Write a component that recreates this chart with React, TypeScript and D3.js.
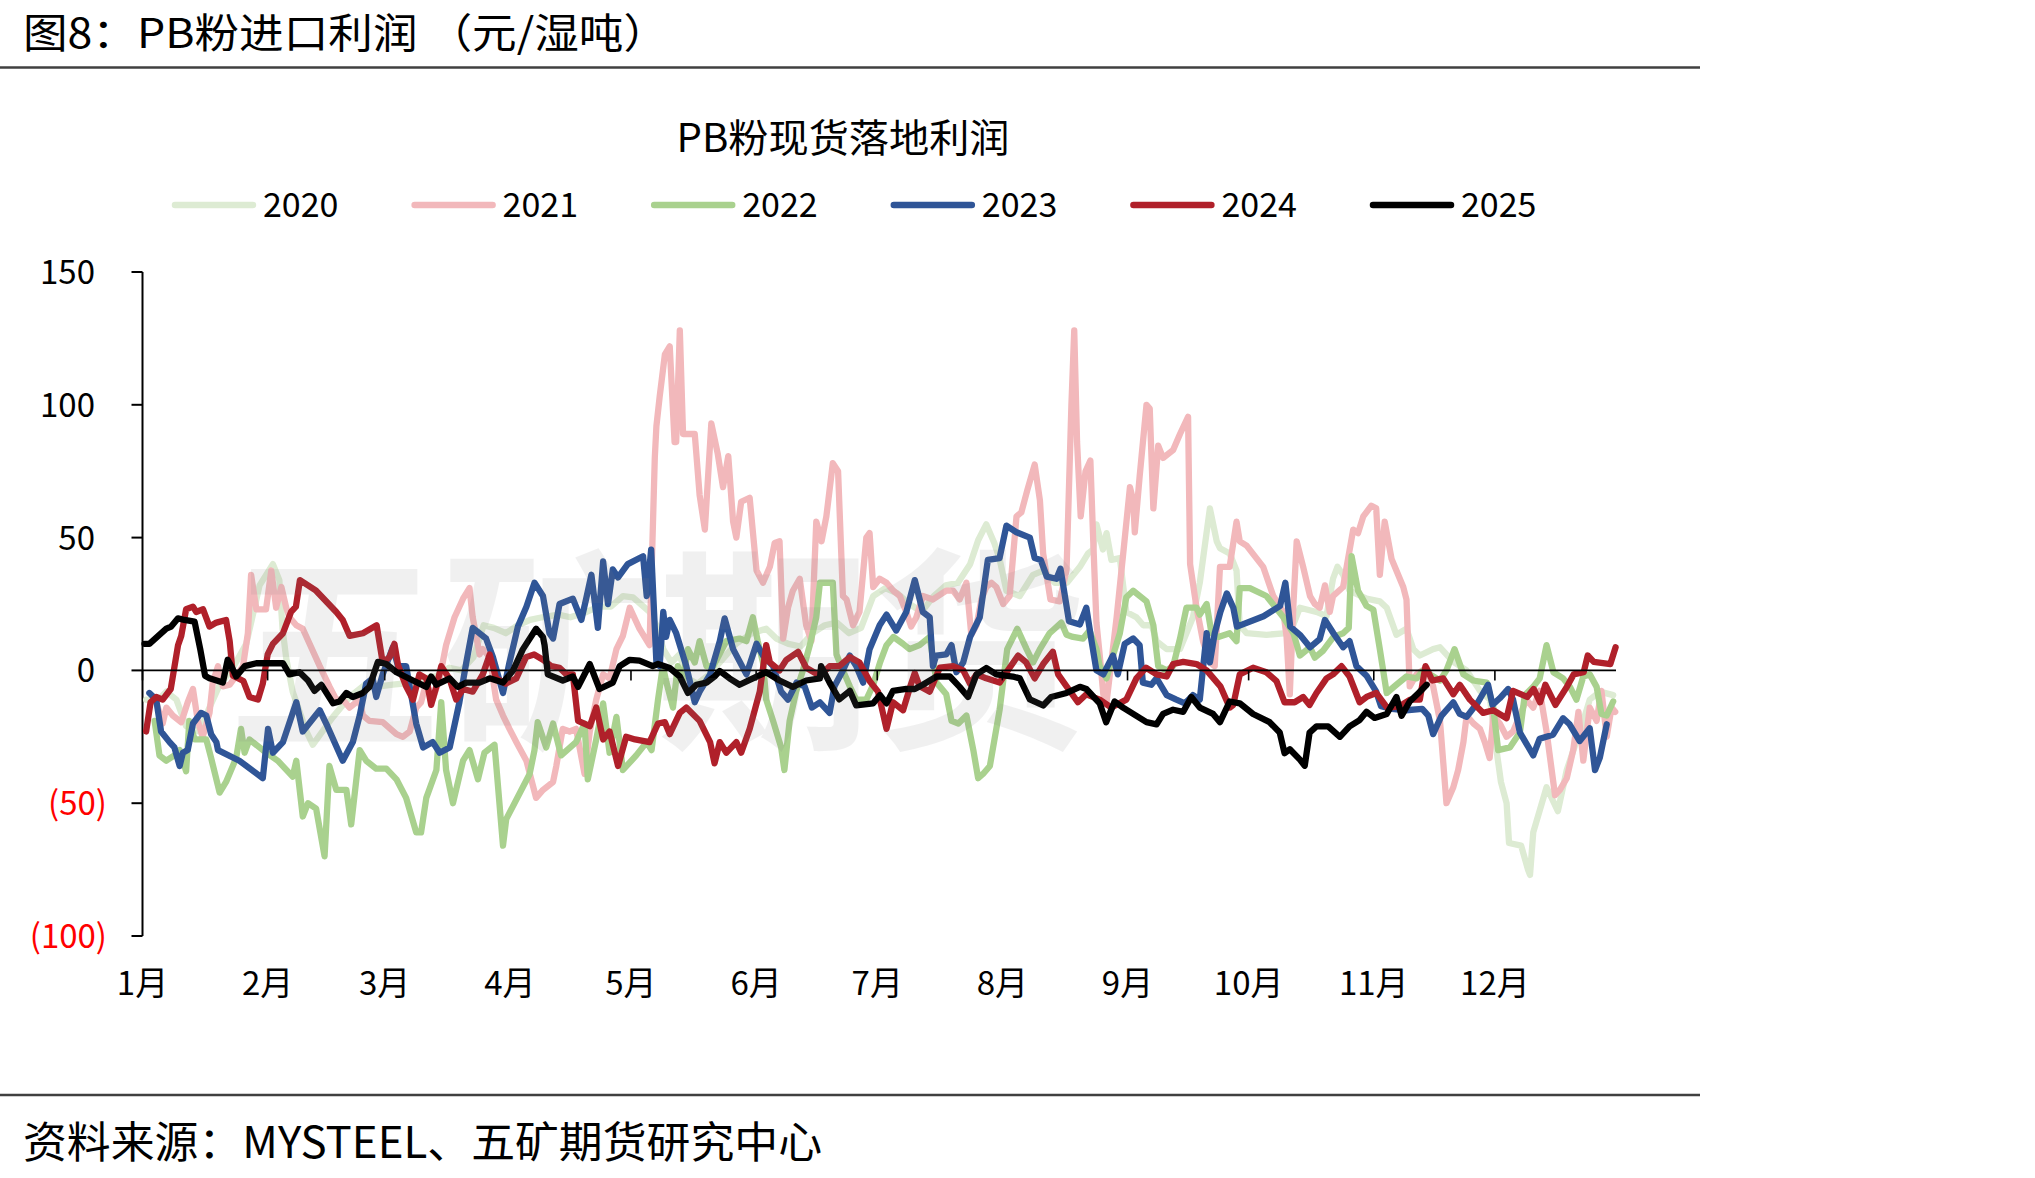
import * as d3 from 'd3';

const WIDTH = 2035;
const HEIGHT = 1178;
const FONT = '"Noto Sans CJK SC", "Noto Sans", sans-serif';

const years = ['2020', '2021', '2022', '2023', '2024', '2025'];
const colors = ['#DDEBD3', '#F2B8BB', '#A9D18E', '#2F5597', '#B0202A', '#000000'];
const monthLabels = ['1月', '2月', '3月', '4月', '5月', '6月', '7月', '8月', '9月', '10月', '11月', '12月'];
const yTicks = [-100, -50, 0, 50, 100, 150];

// [day of year, profit in yuan / wet ton]
const s2020: [number, number][] = [
  [0.9, -11], [3.4, -12], [5.9, -8], [8.4, -11], [10.8, -21], [14.1, -23], [16.6, -14], [19.1, -5.5], [22.4, 1],
  [25.7, 10], [29, 32], [32.3, 40], [33.9, 34], [34.7, 15.5], [35.6, 4.5], [37.2, -8], [40.6, -23], [42.2, -28],
  [45.5, -21], [47.2, -17.5], [51.3, -10], [55.4, -5], [58.7, -6], [62, -5.4], [67, -4.6], [70, -3], [73, -2],
  [76, 1], [79, 0], [82, 5], [84.5, 17], [87, 16], [90, 14], [93, 17], [96, 19], [99, 20], [103, 21], [106, 20],
  [110, 22], [113, 24], [116, 24], [119, 28], [121.5, 27.5], [125.6, 22], [127.3, 17], [129, 8], [131, 3], [133, 6],
  [135, -3], [137.5, -5], [140, -2], [143, 3], [147, 10], [151, 14], [154.5, 15.7], [157, 12], [160, 10], [163, 9],
  [166, 14], [169, 17], [172, 18], [175, 14], [178, 16], [181, 28], [184, 31], [187, 29], [190, 25], [193, 22],
  [196, 28], [199, 32], [202, 33], [205, 40], [207, 49], [209, 55], [211, 48], [212.3, 42], [214, 30], [217.3, 28],
  [220.6, 36], [223.1, 37.6], [226, 33], [229, 33], [232.2, 39], [234.2, 44], [235.5, 45.5], [236.3, 55], [237.9, 45.5],
  [238.8, 51.7], [240, 41.6], [242.1, 42.3], [243.7, 22], [246.2, 20], [247.9, 17], [250, 17], [251.2, 11], [253.7, 8],
  [257, 8], [260.2, 20], [261.9, 33], [264.4, 61], [266.1, 48.6], [266.9, 46], [269.3, 44], [271, 37.6], [271.8, 17],
  [273.5, 14], [278.4, 13.4], [283.4, 14], [285, 17], [286.7, 23.6], [290.8, 22], [293.3, 20.4], [294.9, 34.5], [296, 39],
  [297.4, 36], [299, 30], [303.2, 27], [306.5, 26], [308.2, 23.6], [310.6, 13.4], [313.1, 15.7], [314.8, 8], [316.4, 5.6],
  [319.7, 8], [321.4, 8.7], [324.7, 3.2], [328, 0], [331.3, -7.7], [333.8, -11], [335.4, -30], [336.5, -42], [337.9, -50],
  [338.5, -65], [341.5, -66], [343.2, -75], [343.7, -77], [344.5, -61], [347.8, -44], [350.6, -53], [352.8, -37.5],
  [356.9, -19], [358.5, -11], [361, -8], [364.3, -9.3],
];

const s2021: [number, number][] = [
  [3.4, -12], [5, -20], [5.9, -14], [7.5, -17], [9.6, -19.5], [11.2, -12], [12.5, -7], [13.7, -19], [14.9, -25],
  [16.6, -16], [17.4, -4.6], [18.7, 1.6], [19.9, -6], [21.6, -5.4], [24.9, 1.6], [26.1, 14], [26.9, 36], [28.2, 23],
  [30.6, 23], [31.9, 37.6], [33.1, 23.6], [34.4, 31.4], [35.6, 23.6], [36.4, 20], [38.1, 17], [39.7, 15.7], [43.9, 1.6],
  [46.3, -6], [48, -11], [49.6, -11], [51.3, -14], [53.8, -11], [54.6, -17], [56.2, -19], [59.5, -19.5], [62.9, -24],
  [64.5, -25], [66.2, -23], [67.8, -14], [69, -12], [70.3, -4.6], [71.9, -11], [73.6, -3], [75.2, 9.5], [77.3, 20],
  [79.4, 27], [81, 31], [81.8, 20], [83.5, 6], [84.3, 8], [86, 5], [87.6, -11], [89.3, -17], [90.9, -22], [92.6, -27],
  [95.1, -34], [97.5, -48], [99.2, -45], [101.7, -42], [102.5, -36], [104.1, -22], [105.8, -23], [107.4, -22],
  [109.5, -39], [110.8, -23], [112.4, -11], [114.1, -1.5], [115.7, -3], [117.4, 8], [119, 13], [120.7, 23.6],
  [123.1, 15.7], [125.6, 9.5], [126.9, 80], [127.3, 92], [128.1, 103], [129.4, 119], [130.6, 122], [131.8, 86],
  [132.2, 86], [133.1, 128], [133.9, 89], [136.8, 89], [138, 66], [139.3, 53], [140.9, 93], [142.5, 81.5], [143.8, 69],
  [145.1, 80.7], [146.3, 56], [147.1, 50], [148.3, 63.5], [150.4, 65], [152.1, 37.6], [153.7, 33], [155.4, 39],
  [156.6, 48], [157.8, 48.6], [158.7, 12], [159.9, 23.6], [161.1, 30], [162.8, 34.5], [164.4, 17], [165.7, 11],
  [166.9, 56], [168.2, 48.6], [169.4, 58], [171, 78], [172.3, 75], [173.5, 28], [174.4, 26.7], [176, 17], [177.6, 22],
  [179.3, 50], [180.1, 51.7], [181, 31.4], [182.6, 34.5], [184.3, 33], [186, 30], [187.6, 28], [189.2, 22],
  [190.4, 16.5], [191.7, 20], [193.3, 28], [195.8, 26.7], [199.1, 30], [200.8, 30], [202.4, 26.7], [204.1, 33],
  [205.3, 13.4], [206.6, 17], [207.8, 26.7], [209, 31.4], [210.3, 33], [211.5, 31.4], [213.2, 25], [214.8, 28],
  [216.5, 58], [217.7, 59.5], [219.2, 68], [221, 77.5], [222.3, 64], [223.1, 44], [224.9, 26.7], [227.2, 26],
  [228.9, 38], [230.1, 100], [230.8, 128], [231.5, 86], [232.4, 58], [233.6, 75], [234.8, 79], [235.5, 49],
  [236.3, 18], [237.1, 6], [238, -9], [238.8, -12], [241.3, 20], [243, 45], [244.6, 69], [245.4, 64], [245.8, 52],
  [247, 73], [248.7, 100], [249.5, 98.6], [250.4, 61], [251.6, 84.6], [252.8, 80], [255.3, 83], [257, 89], [259, 95.5],
  [259.5, 40], [261.1, 23.6], [262.7, 11], [264.4, 3], [265.6, 1.6], [266.9, 39], [269.3, 39], [271, 56], [271.8, 48.6],
  [273.5, 47], [277.6, 39], [280.1, 28], [282.6, 22], [283.4, 12.6], [284.2, -9], [285.1, 25], [285.9, 48.6],
  [287.5, 39], [289.2, 28], [290.4, 25], [291.6, 23.6], [292.9, 32], [294.1, 22], [294.9, 28], [297.4, 31.4],
  [299.9, 53], [301.1, 51.7], [302.4, 58], [304.4, 62], [305.6, 61], [306.5, 36], [307.7, 56], [309.4, 42],
  [310.6, 37.6], [312.3, 31.4], [313.1, 26.7], [313.9, -6], [315.6, -1.5], [318.1, 1], [319.7, -6], [321.4, -19],
  [323, -50], [324.7, -44], [325.9, -37.5], [327.2, -27], [328, -17], [329.7, -20], [331.3, -22], [332.5, -27],
  [333.7, -33], [334.6, -17], [336.2, -20], [337.9, -25], [339.5, -23], [341.2, -17], [342.8, -11], [344.5, -14],
  [346.1, -7.7], [347.8, -23], [349.9, -47], [351.1, -45], [352.8, -40.6], [354.4, -30], [355.7, -15.6], [356.9, -34],
  [358.5, -14], [360.2, -19], [361.4, -7.7], [362.7, -25], [363.9, -14], [364.8, -15.6],
];

const s2022: [number, number][] = [
  [3, -19], [4.2, -32], [5.9, -34], [7.9, -32], [9.2, -30], [10.8, -38], [11.6, -19], [12.9, -26], [15.8, -26],
  [17, -33], [19.1, -46], [20.7, -42], [23.2, -33], [24.4, -22], [25.3, -31], [26.5, -26], [29.8, -30], [33.5, -34],
  [37.2, -40], [38.1, -34], [39.7, -55], [41, -50], [43, -52], [45.1, -70], [46.3, -36], [48, -45], [50.5, -45],
  [51.7, -58], [53.8, -30], [55.4, -34], [57.9, -37], [60.4, -37], [62.9, -41], [65.3, -48], [67.8, -61], [69, -61],
  [70.3, -48], [72.8, -37.5], [74, -12], [75.2, -37.5], [76.9, -50], [79.4, -34], [81, -30], [83.1, -41], [84.7, -31],
  [87.2, -28], [89.3, -66], [90.1, -56], [95.9, -39], [97.1, -30], [97.9, -19.5], [100, -29], [101.7, -20],
  [103.7, -32], [107.4, -27], [109.5, -20], [110.3, -41], [112.4, -26], [114.1, -12.4], [115.7, -31], [117.4, -17.5],
  [119, -37.5], [122.3, -32], [124.9, -27], [126.1, -30], [127.7, -11], [128.9, 1.6], [129.8, -4.6], [131.4, -14],
  [132.6, 1.6], [133.9, -3], [135.1, 8], [136.8, 3], [138, 11], [139.7, 1.6], [141.4, 1.6], [144.6, 11], [147.9, 12],
  [149.6, 11], [151.2, 20], [152.4, 11], [153.7, 3], [154.5, -11], [156.2, -19], [158.2, -29], [159, -37.5],
  [160.3, -19], [161.9, -8], [163.6, 0], [165.3, 9.5], [166.9, 20], [167.8, 33], [171, 33], [171.9, 6], [173.5, 0],
  [175.2, -6], [176.8, -11], [179.3, -11], [181, -5.4], [182.7, 3], [184.3, 9.5], [186, 12.6], [188.4, 10], [190, 8],
  [192.5, 9.5], [195, 12.6], [196.7, -4.6], [199.1, -9], [200.4, -19], [202.1, -20], [204.1, -17], [205.8, -30],
  [207, -40.6], [208.2, -39], [209.9, -36], [212.3, -15], [214.2, 8], [216.7, 15.7], [219, 8], [220.6, 3], [222.3, 8],
  [224.7, 14], [227.6, 18], [228.9, 13.4], [230.5, 12.6], [233, 12], [234.6, 15], [236.3, 8], [237.1, 1.6],
  [238.8, -3], [240.4, 5.6], [242.1, 14], [243.7, 27.5], [245.4, 30], [248.7, 26], [250.4, 17], [251.6, 1.6],
  [253.7, 0], [255.3, 1.6], [257, 12], [258.6, 23.6], [261.1, 23.6], [261.9, 21], [263.6, 25], [264.8, 14],
  [266.5, 12.6], [269.3, 14], [271, 11], [271.8, 31], [274.3, 31], [278.4, 28], [282.6, 20], [285.1, 14], [286.7, 5.6],
  [289.2, 8.7], [290.4, 4.8], [292.5, 7.5], [295, 12.6], [297.4, 14], [298.8, 16], [299.5, 43], [301.1, 30],
  [303.2, 24.3], [304.9, 22.8], [306.5, 8], [308.2, -8.5], [310.6, -5.4], [313.1, -2.3], [315.6, -3], [317.3, 0],
  [321.4, -3.8], [323, 0], [325, 8], [327.2, -1.5], [329.6, -3.8], [333, -4.6], [334.6, -14], [335.8, -30],
  [338.7, -29], [341.2, -23.4], [342.4, -9.3], [344.5, -6.2], [346.1, -3], [347.8, 9.5], [349.5, -0.7], [351.9, -3],
  [353.6, -6.2], [355.2, -11], [356.9, -2.3], [358.5, -1.5], [360.2, -6.2], [361.4, -16.4], [362.7, -17], [364.3, -11.7],
];

const s2023: [number, number][] = [
  [1.7, -8.5], [3.4, -11], [4.6, -23], [6.7, -27], [7.9, -29], [9.2, -36], [10, -31], [11.2, -30], [12.5, -20],
  [14.5, -16], [15.8, -17], [17, -24], [18.3, -27], [18.7, -30], [24, -34], [29.8, -40.6], [31.1, -22], [32.3, -31],
  [34.8, -27], [38.1, -12], [39.7, -23], [43.9, -15], [45.5, -20], [49.6, -34], [52.1, -27], [53.8, -17], [55.4, -5],
  [57, -3], [57.9, -10], [59.5, -1.5], [62, 8.7], [63.3, 1.6], [65.3, 1.6], [67.8, -20], [69.5, -29], [71.9, -27],
  [73.6, -31], [76.1, -29], [78.5, -12], [80.2, 3], [81.8, 16], [85.1, 12], [86.8, 5], [89.3, -8.5], [90.9, 3],
  [93, 16.5], [95.1, 24], [97.1, 33], [99.2, 28], [100.8, 14], [101.7, 12], [103.3, 25], [106.6, 27], [108.7, 19],
  [109.9, 27], [111.2, 36], [112.8, 16], [114.1, 41], [115.3, 25], [116.5, 38], [117.8, 35], [120.2, 40], [124, 43],
  [124.9, 28], [126, 45.5], [127.3, 3], [128.1, 1.6], [129, 22], [129.7, 12.6], [130.6, 19], [132.2, 14], [134.7, 1.6],
  [136.8, -12], [138, -8], [140.6, -1.5], [143, 11], [144.2, 19.6], [146.3, 8], [149.6, -1.5], [152.1, 10],
  [153.7, 5.6], [156.2, 1.6], [158.2, -8], [159.9, -11], [162, -4.6], [164, -6], [165.8, -14], [167.8, -12],
  [170.2, -16], [171.4, -6], [173.5, 0], [175.2, 5.6], [176.8, 1.6], [178.5, -4.6], [180.1, 8], [182.6, 17],
  [184.3, 21], [186.7, 15], [189.2, 22], [191.3, 34], [193.3, 22], [195, 20], [195.8, 1.6], [196.6, 5.6], [199.1, 6],
  [200.4, 9.5], [201.6, -0.7], [203.3, 3], [205, 12.6], [207.4, 20], [209.4, 41.6], [212.3, 42.3], [214, 54.5],
  [216.5, 52], [219.8, 50], [221, 42.3], [222.5, 41.6], [224, 35.3], [226.4, 34.5], [227.4, 38.3], [229.5, 18.5],
  [232.2, 17.3], [233.8, 23.6], [235.1, 11], [236.3, 0], [238, -1.5], [240.4, 5.6], [241.6, -1.5], [243.3, 10],
  [245.4, 12], [247, 9.5], [247.8, -4.6], [249.9, -5.4], [251.2, -3], [253.7, -9.3], [256.1, -11], [258.2, -12.4],
  [260.2, -9.3], [261.9, -11], [263.6, 14], [264.4, 3], [265.6, 14], [267, 22], [268.6, 29], [270.2, 23.6],
  [271.1, 16.5], [277.7, 20.4], [281.8, 24.3], [283.1, 33], [284.3, 16.5], [286.7, 13.4], [289.2, 8.7], [291.6, 11.8],
  [292.9, 19], [295, 14], [297.4, 8.7], [299, 11], [300.7, 1.6], [303.2, -2], [305.6, -8], [306.8, -13.5],
  [309.5, -14.5], [313, -15], [317, -14.5], [318.5, -17], [319.7, -24], [321.8, -17], [324.7, -12], [326.3, -16.4],
  [328, -17.5], [330.8, -12], [333.3, -5.4], [334.4, -13], [336.2, -10.5], [338.3, -7], [339.5, -11], [341.2, -23.4],
  [344.5, -32], [346.1, -25.7], [349.4, -24.2], [351.9, -18], [353.5, -20.3], [356, -26.6], [358.5, -21.8],
  [359.8, -37.5], [361, -32.8], [362.7, -20.3],
];

const s2024: [number, number][] = [
  [0.9, -23], [2, -12], [3.4, -10], [5, -11], [7, -7], [8.8, 9.5], [9.6, 13], [10.8, 23], [12.5, 24], [13.3, 22],
  [15, 23], [16.6, 16.5], [18.3, 18], [20.7, 19], [21.6, 11], [22.4, -2], [25, -4], [26.5, -10], [28.6, -11],
  [29.8, -5], [31, 6], [32.3, 10], [34.8, 14], [36.8, 22], [38, 24], [39, 34], [43, 30], [48, 22], [49.6, 19],
  [51.3, 13], [54.6, 14], [58, 17], [59.5, 3], [61.2, 5], [62.4, 10], [63.3, 2], [65.3, -6], [67, -11], [68.6, -1.5],
  [70.3, -3], [71.5, -13], [72.8, -6], [74, 1.6], [76, -3], [77.7, -11], [79.4, -7], [81.8, -8], [84.3, -1.5], [86, 6],
  [87.6, -3], [90, -5], [92.6, -3], [95, 5], [97, 6], [99.2, 4], [101.3, 1.6], [103.3, 1], [105, -1.5], [106.6, -1.5],
  [107.9, -19], [110.8, -21], [112.4, -14], [114.1, -26], [115.7, -23], [117.8, -36], [119.8, -25], [122, -26],
  [125.6, -27], [127.7, -20], [129.4, -19.5], [130.6, -24], [133.1, -16], [134.7, -14], [138, -19], [140.6, -27],
  [141.7, -35], [143, -27], [144.6, -31], [147.1, -27], [148.3, -31], [150.4, -22], [152.9, -8], [154.5, 9.5],
  [155.4, 3], [157.8, 0], [159.5, 4], [162.4, 7], [164.4, 1], [167.8, -2], [170.2, 1.6], [172.6, 1.6], [175.2, 5],
  [177.6, 3], [180.1, -4], [182.2, -8], [184.3, -22], [185.9, -12], [188.4, -15], [190.4, -5], [191.3, -1],
  [192.5, -6], [195, -8], [197.5, 1], [200.8, 1.6], [203.3, 0], [205, -5], [206.6, -1.5], [209, -3], [212.3, -4.6],
  [214.8, 1], [216.9, 5.6], [218.9, 3], [221, -3], [223.1, 2.4], [225.5, 7], [226.8, -1.5], [228.9, -6], [231.7, -12],
  [233.8, -9], [237.1, -11], [240, -14], [243.7, -11], [246.2, -3], [248.6, 1], [251.2, -1.5], [253.7, -2.3],
  [255.3, 2.4], [257.8, 3.2], [261.1, 2.4], [263.6, 0], [267, -6], [269.3, -14], [270.2, -13], [271.8, -1.5],
  [275.1, 1], [278.4, -0.7], [280.9, -4], [282.9, -12], [285.4, -12], [287.5, -10], [289.1, -13], [290.8, -8.5],
  [293.3, -3], [294.9, -1.5], [297, 1.6], [299, -2.3], [301.5, -12], [303.2, -10], [305.6, -8.5], [308.3, -14],
  [311.4, -13.5], [314, -11], [316.4, -11], [317.8, 1.6], [319.5, -3.8], [322.2, -3], [324.7, -9], [326.3, -5.4],
  [328.8, -11], [332.1, -16], [334.6, -15], [337.9, -18], [339.5, -7.7], [343, -10], [344.6, -7], [346.2, -12],
  [347.5, -5.4], [350, -13], [352.9, -6], [354.5, -1.5], [357, -0.7], [358, 5.6], [359.5, 3.2], [363.6, 2.4],
  [364.9, 8.7],
];

const s2025: [number, number][] = [
  [0.5, 10], [1.7, 10], [5.9, 15.7], [7.1, 16.5], [8.8, 19.6], [10.4, 19], [12.9, 18.4], [14.3, 8], [15.5, -2],
  [16.6, -3], [19.9, -4.6], [21.1, 4], [22, 1.6], [23.2, -2.3], [25.3, 1.6], [28.2, 2.7], [34.8, 2.7], [36.4, -1.5],
  [38.9, -0.7], [41, -3.8], [42.6, -7.7], [44.3, -5.4], [47.2, -12.4], [48.8, -11.7], [50.5, -8.5], [52.1, -10],
  [54.6, -8.5], [56.2, -6.2], [58.3, 3.2], [60.4, 2.4], [62.9, -0.7], [67, -3.8], [70.3, -6.2], [71.5, -2.3],
  [72.8, -5.4], [76.1, -3], [78.1, -6.2], [80.2, -4.6], [83.5, -4.6], [86, -3], [89.3, -4.6], [91.8, 0], [94.2, 7.9],
  [97.5, 15.7], [99.2, 12.6], [99.6, 9.5], [100.4, -1.5], [104.1, -3.8], [106.6, -2.3], [107.9, -6.2], [110.8, 2.4],
  [113.2, -7], [116.5, -4.6], [118.2, 1.6], [120.7, 4], [123.1, 3.7], [126.4, 1.6], [127.7, 2.4], [130.6, 0.9],
  [133.1, -2.3], [135.1, -8.5], [137.2, -5.4], [139.7, -4.6], [141.7, -2.3], [143, -0.2], [145.4, -3], [147.9, -5.4],
  [151.2, -3], [154.5, -0.7], [157.8, -3.8], [161.1, -6.2], [164.4, -3.8], [167.8, -3], [168.1, 1.6], [170.2, -4.6],
  [172.6, -10.9], [175.2, -7.7], [176.8, -13.2], [181, -12.4], [182.7, -9.3], [184.3, -12.4], [185.9, -7.7],
  [189.2, -7], [191.3, -7], [193.3, -5.4], [196.7, -2.3], [200, -2.3], [202.4, -6.2], [204.5, -10], [206.6, -1.5],
  [209, 0.9], [211.5, -1.5], [215.6, -2.3], [217.3, -3], [219.8, -10.9], [223.1, -13.2], [225.1, -10], [228.9, -8.5],
  [232.2, -6.2], [233.8, -7], [237.1, -12.4], [238.7, -19.5], [240.8, -11.7], [242.9, -14], [245.4, -16.4],
  [248.7, -19.5], [251.2, -20.3], [252.8, -16.4], [255.3, -14.8], [257.8, -15.6], [259.8, -10], [261.9, -14],
  [265.2, -16.4], [266.9, -19.5], [269.3, -11.7], [271.8, -12.4], [275.1, -16.4], [279.2, -19.5], [281.7, -23.4],
  [282.9, -31.2], [284.2, -29.7], [286.7, -33.6], [287.9, -35.9], [289.1, -23.4], [290.8, -21.1], [293.7, -21.1],
  [296.6, -25], [299, -21.1], [301.5, -18.7], [303.2, -15.6], [305.2, -17.9], [308.2, -16.4], [310.6, -10],
  [311.9, -17.1], [313.9, -11.7], [316.1, -8.5], [318.1, -5.4],
];

const seriesData = [s2020, s2021, s2022, s2023, s2024, s2025];

const X0 = 142.5;
const X1 = 1616;
const Y_TOP = 272;
const Y_BOTTOM = 936;
const DAY0 = new Date(2024, 0, 1);
const toDate = (day: number) => new Date(DAY0.getTime() + day * 86400000);

export default function App() {
  const xScale = d3.scaleTime().domain([DAY0, new Date(2024, 11, 31)]).range([X0, X1]);
  const yScale = d3.scaleLinear().domain([-100, 150]).range([Y_BOTTOM, Y_TOP]);

  const lineBuilder = d3
    .line<[number, number]>()
    .x((d) => xScale(toDate(d[0])))
    .y((d) => yScale(d[1]));

  const monthStarts = d3.timeMonth.range(DAY0, new Date(2025, 0, 1));
  const zeroY = yScale(0);

  return (
    <svg width={WIDTH} height={HEIGHT} style={{ position: 'absolute', left: 0, top: 0, background: '#fff' }}>
      <rect width={WIDTH} height={HEIGHT} fill="#fff" />

      {/* header */}
      <text x={23} y={48} fontFamily={FONT} fontSize={41} textLength={645} lengthAdjust="spacingAndGlyphs">
        图8：PB粉进口利润 （元/湿吨）
      </text>
      <line x1={0} x2={1700} y1={67.5} y2={67.5} stroke="#404040" strokeWidth={2.5} />

      <text x={843} y={152} fontFamily={FONT} fontSize={39} textAnchor="middle" textLength={333} lengthAdjust="spacingAndGlyphs">
        PB粉现货落地利润
      </text>

      {/* legend */}
      {years.map((yr, i) => {
        const lx = 172 + i * 239.6;
        return (
          <g key={yr}>
            <line x1={lx + 3} x2={lx + 81} y1={205} y2={205} stroke={colors[i]} strokeWidth={6.5} strokeLinecap="round" />
            <text x={lx + 91} y={217} fontFamily={FONT} fontSize={34}>
              {yr}
            </text>
          </g>
        );
      })}

      {/* y axis */}
      <line x1={X0} x2={X0} y1={Y_TOP} y2={Y_BOTTOM} stroke="#000" strokeWidth={2} />
      {yTicks.map((t) => (
        <g key={t}>
          <line x1={X0 - 11} x2={X0} y1={yScale(t)} y2={yScale(t)} stroke="#000" strokeWidth={2} />
          <text
            x={t < 0 ? 107 : 95}
            y={yScale(t) + 12}
            textAnchor="end"
            fontFamily={FONT}
            fontSize={33}
            fill={t < 0 ? '#FF0000' : '#000'}
          >
            {t < 0 ? `(${-t})` : `${t}`}
          </text>
        </g>
      ))}

      {/* series */}
      {seriesData.map((s, i) => (
        <path
          key={years[i]}
          d={lineBuilder(s) || ''}
          fill="none"
          stroke={colors[i]}
          strokeWidth={6.3}
          strokeLinejoin="round"
          strokeLinecap="round"
        />
      ))}

      {/* x axis on zero, drawn over the light series like the reference */}
      <line x1={X0} x2={X1} y1={zeroY} y2={zeroY} stroke="#000" strokeWidth={1.6} />
      {monthStarts.map((m, i) => (
        <g key={i}>
          <line x1={xScale(m)} x2={xScale(m)} y1={zeroY} y2={zeroY + 10} stroke="#000" strokeWidth={1.6} />
          <text x={xScale(m)} y={995} textAnchor="middle" fontFamily={FONT} fontSize={33}>
            {monthLabels[i]}
          </text>
        </g>
      ))}

      {/* watermark */}
      <text x={227} y={732} fontFamily={FONT} fontSize={215} fill="#808080" opacity={0.11} fontWeight={700}>
        五矿期货
      </text>

      {/* footer */}
      <line x1={0} x2={1700} y1={1095} y2={1095} stroke="#404040" strokeWidth={2.5} />
      <text x={23} y={1158} fontFamily={FONT} fontSize={43} textLength={799} lengthAdjust="spacingAndGlyphs">
        资料来源：MYSTEEL、五矿期货研究中心
      </text>
    </svg>
  );
}
